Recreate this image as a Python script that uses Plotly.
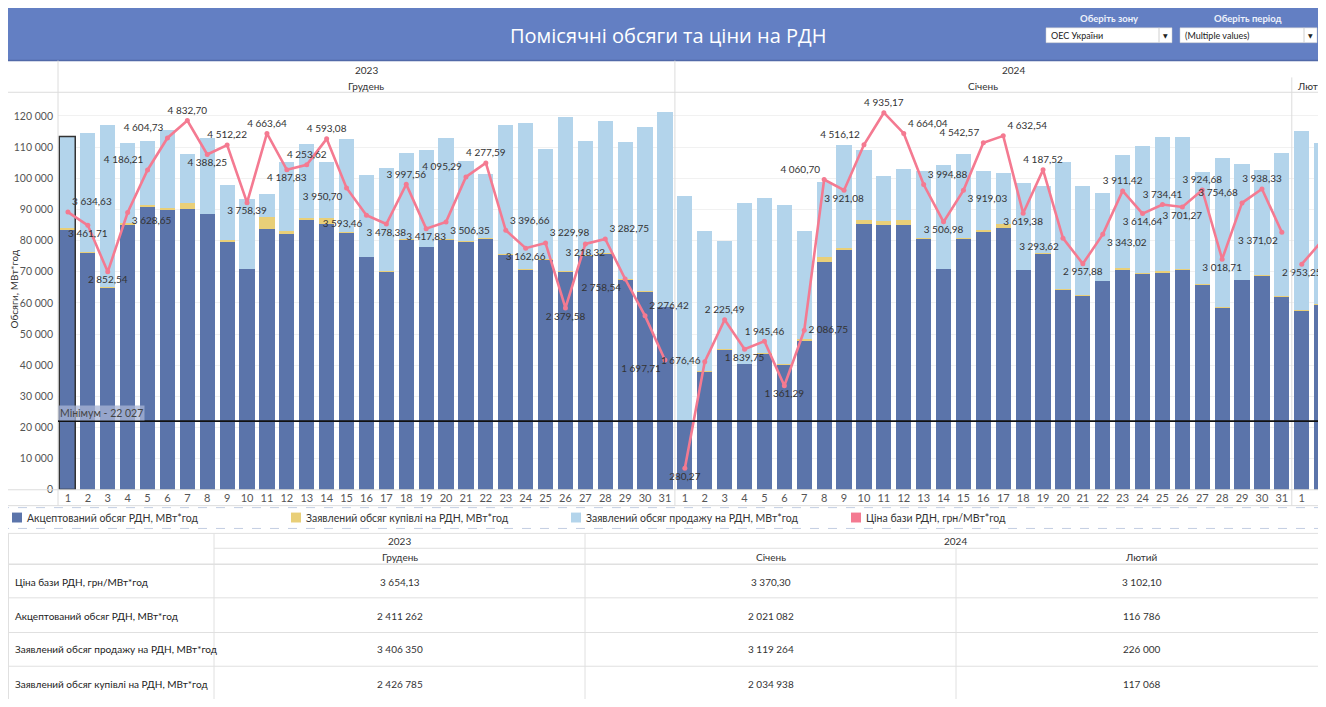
import plotly.graph_objects as go

# ---------------- data ----------------
years = ["2023", "2024", "2024"]
months = ["Грудень", "Січень", "Лютий"]

days_dec = list(range(1, 32))
days_jan = list(range(1, 32))
days_feb = [1, 2]

accepted_dec = [83430, 75900, 64660, 85020, 90650, 89590, 90010, 88310, 79610, 70810, 83640, 82050, 86610, 85340, 82480,
                74520, 69850, 80140, 77700, 80140, 79510, 80360, 75370, 70600, 73780, 69850, 74950, 75580, 67200, 63380, 58500]
buy_dec = [84030, 76300, 64860, 85520, 91250, 90290, 91910, 88510, 80110, 70910, 87440, 82850, 87310, 87140, 82680,
           74620, 70050, 80340, 77900, 80340, 79710, 80660, 75670, 70700, 73980, 70050, 75150, 75780, 67500, 63580, 58700]
sell_dec = [113130, 114510, 117060, 111330, 111860, 115470, 107620, 112820, 97750, 93300, 95000, 105180, 110910, 105180, 112600,
            100940, 103060, 108150, 108890, 112820, 105500, 101150, 117060, 117800, 109420, 119500, 111860, 118230, 111650, 116320, 121200]
price_dec = [3634.63, 3461.71, 2852.54, 3628.65, 4186.21, 4604.73, 4832.70, 4388.25, 4512.22, 3758.39, 4663.64, 4187.83, 4253.62,
             4593.08, 3950.70, 3593.46, 3478.38, 3997.56, 3417.83, 3506.35, 4095.29, 4277.59, 3396.66, 3162.66, 3229.98, 2379.58,
             3218.32, 3282.75, 2758.54, 2276.42, 1697.71]

accepted_jan = [22027, 37820, 44820, 40150, 43650, 39940, 47680, 73140, 76750, 85240, 84920, 84920, 80460, 70810, 80460,
                82690, 84070, 70380, 75580, 64130, 62110, 66880, 70600, 69320, 69640, 70600, 65610, 58400, 67200, 68580, 61900]
buy_jan = [22127, 38020, 45120, 40450, 43950, 40140, 48180, 74640, 77450, 86440, 86320, 86520, 80760, 70910, 80760,
           83290, 85270, 70580, 75880, 64330, 62310, 67080, 71000, 69520, 70040, 70800, 66010, 58600, 67400, 68880, 62000]
sell_jan = [94250, 83110, 79930, 92130, 93510, 91280, 83110, 98710, 110590, 108890, 100720, 102740, 102210, 104220, 107620,
            102210, 101680, 98500, 97430, 105180, 97430, 95310, 107410, 110380, 113130, 113130, 102000, 106560, 104330, 102420, 108150]
price_jan = [280.27, 1676.46, 2225.49, 1839.75, 1945.46, 1361.29, 2086.75, 4060.70, 3921.08, 4516.12, 4935.17, 4664.04, 3994.88,
             3506.98, 3919.03, 4542.57, 4632.54, 3619.38, 4187.52, 3293.62, 2957.88, 3343.02, 3911.42, 3614.64, 3734.41, 3701.27,
             3924.68, 3018.71, 3754.68, 3938.33, 3371.02]

accepted_feb = [57440, 59350]
buy_feb = [57640, 59430]
sell_feb = [115040, 111120]
price_feb = [2953.25, 3250.90]

# monthly summary table
table_rows = ["Ціна бази РДН, грн/МВт*год", "Акцептований обсяг РДН, МВт*год",
              "Заявлений обсяг продажу на РДН, МВт*год", "Заявлений обсяг купівлі на РДН, МВт*год"]
tbl_price = [3654.13, 3370.30, 3102.10]
tbl_accepted = [2411262, 2021082, 116786]
tbl_sell = [3406350, 3119264, 226000]
tbl_buy = [2426785, 2034938, 117068]

series_names = ["Акцептований обсяг РДН, МВт*год", "Заявлений обсяг купівлі на РДН, МВт*год",
                "Заявлений обсяг продажу на РДН, МВт*год", "Ціна бази РДН, грн/МВт*год"]

# label placement (style only)
pos_dec = ["top right", "bottom center", "bottom center", "bottom right", "top left", "top left", "top center", "bottom center",
           "top center", "bottom center", "top center", "bottom center", "top center", "top center", "bottom left",
           "bottom left", "bottom center", "top center", "bottom center", "bottom right", "top left", "top center",
           "top right", "bottom center", "top right", "bottom center", "bottom center", "top right", "bottom left",
           "top right", "bottom left"]
pos_jan = ["bottom center", "middle left", "top center", "bottom center", "top center", "bottom center", "middle right",
           "top left", "bottom center", "top left", "top center", "top right", "top right", "bottom center", "bottom right",
           "top left", "top right", "bottom center", "top center", "bottom left", "bottom center", "bottom right",
           "top center", "bottom center", "top center", "bottom center", "top center", "bottom center", "top left",
           "top center", "bottom left"]
pos_feb = ["bottom center", "top left"]

selected_index = 0

# ---------------- styling ----------------
PAGE_W, PAGE_H = 1326, 707
OX, OY = 8, 8                       # browser body margin on every side
W, H = PAGE_W - 2 * OX, PAGE_H - 2 * OY
C_ACC = "#5b74aa"
C_BUY = "#e9cf78"
C_SELL = "#b3d4eb"
C_PRICE = "#f47a91"
FONT = "Lato, 'Open Sans', sans-serif"
GRID = "#dcdcdc"


def fx(x):
    return (x - OX) / W


def fy(y):
    return 1 - (y - OY) / H


def fmt_num(v, dec=0):
    s = f"{v:,.{dec}f}"
    return s.replace(",", " ").replace(".", ",")


annotations = []
shapes = []


def ann(text, x, y, xref="paper", yref="paper", xanchor="center", yanchor="middle", size=10, color="#333333",
        family=FONT, **kw):
    annotations.append(dict(text=text, x=x, y=y, xref=xref, yref=yref, xanchor=xanchor, yanchor=yanchor,
                            showarrow=False, font=dict(family=family, size=size, color=color), **kw))


def hline(y, x0, x1, color=GRID, width=1, dash="solid"):
    shapes.append(dict(type="line", xref="paper", yref="paper", x0=fx(x0), x1=fx(x1), y0=fy(y), y1=fy(y),
                       line=dict(color=color, width=width, dash=dash), layer="above"))


def vline(x, y0, y1, color=GRID, width=1):
    shapes.append(dict(type="line", xref="paper", yref="paper", x0=fx(x), x1=fx(x), y0=fy(y0), y1=fy(y1),
                       line=dict(color=color, width=width), layer="above"))


def rect(x0, y0, x1, y1, fill, layer="above", line=None):
    shapes.append(dict(type="rect", xref="paper", yref="paper", x0=fx(x0), x1=fx(x1), y0=fy(y1), y1=fy(y0),
                       fillcolor=fill, line=line or dict(width=0), layer=layer))


month_days = [days_dec, days_jan, days_feb]
month_acc = [accepted_dec, accepted_jan, accepted_feb]
month_buy = [buy_dec, buy_jan, buy_feb]
month_sell = [sell_dec, sell_jan, sell_feb]
month_price = [price_dec, price_jan, price_feb]
month_pos = [pos_dec, pos_jan, pos_feb]

xs_by_month = []
off = 0
for d in month_days:
    xs_by_month.append([off + i for i in range(len(d))])
    off += len(d)
x_all = [x for xs in xs_by_month for x in xs]
days_all = [d for ds in month_days for d in ds]
acc_all = [v for m in month_acc for v in m]
buy_all = [v for m in month_buy for v in m]
sell_all = [v for m in month_sell for v in m]

fig = go.Figure()
BW = 0.76
fig.add_trace(go.Bar(x=x_all, y=sell_all, width=BW, marker=dict(color=C_SELL, line=dict(width=0)),
                     name=series_names[2], showlegend=False))
fig.add_trace(go.Bar(x=x_all, y=buy_all, width=BW, marker=dict(color=C_BUY, line=dict(width=0)),
                     name=series_names[1], showlegend=False))
fig.add_trace(go.Bar(x=x_all, y=acc_all, width=BW, marker=dict(color=C_ACC, line=dict(width=0)),
                     name=series_names[0], showlegend=False))
fig.add_trace(go.Bar(x=x_all, y=sell_all, width=BW,
                     marker=dict(color="rgba(0,0,0,0)",
                                 line=dict(color="#333333",
                                           width=[1.5 if i == selected_index else 0 for i in range(len(x_all))])),
                     showlegend=False, hoverinfo="skip"))

for xs, pr, pos in zip(xs_by_month, month_price, month_pos):
    fig.add_trace(go.Scatter(x=xs, y=pr, yaxis="y2", mode="lines+markers+text",
                             line=dict(color=C_PRICE, width=2.6), marker=dict(color=C_PRICE, size=5),
                             text=[fmt_num(p, 2) for p in pr], textposition=pos,
                             textfont=dict(family=FONT, size=10, color="#333333"),
                             name=series_names[3], showlegend=False, cliponaxis=False))

# plot area: 19.9 px per day slot, first slot starts at page x = 58
SLOT_PX = 19.9
x_max = -0.5 + (OX + W - 58) / SLOT_PX

# background panels
rect(0, 61, PAGE_W, PAGE_H, "white", layer="below")
rect(0, 0, PAGE_W, 61, "#637fc3", layer="below")
hline(61, 0, PAGE_W, color="#5169a8", width=1.5)

# title + filters
ann("Помісячні обсяги та ціни на РДН", fx(668), fy(36), size=20, color="white", family="'Open Sans', sans-serif")
for label, cx, x0, x1, val in [("Оберіть зону", 1109, 1046, 1172, "ОЕС України"),
                               ("Оберіть період", 1248, 1180, 1317, "(Multiple values)")]:
    ann(f"<b>{label}</b>", fx(cx), fy(18.5), size=9.5, color="#eef2fb")
    rect(x0, 28, x1, 43, "white", line=dict(color="#c8c8c8", width=0.5))
    vline(x1 - 13, 28, 43, color="#d0d0d0")
    ann(val, fx(x0 + 3), fy(35.5), xanchor="left", size=9, color="#222222")
    ann("▼", fx(x1 - 6.5), fy(35.5), size=6, color="#222222", family="DejaVu Sans")

# pane separators & header texts
for i, xs in enumerate(xs_by_month):
    if i > 0:
        top = 61 if years[i] != years[i - 1] else 78
        shapes.append(dict(type="line", xref="x", yref="paper", x0=xs[0] - 0.5, x1=xs[0] - 0.5,
                           y0=fy(510), y1=fy(top), line=dict(color=GRID, width=1), layer="above"))
    if i == len(xs_by_month) - 1:
        ann(months[i], xs[0] - 0.35, fy(86.5), xref="x", xanchor="left")
    else:
        ann(months[i], (xs[0] + xs[-1]) / 2, fy(86.5), xref="x")
for yr in sorted(set(years)):
    idx = [i for i, y in enumerate(years) if y == yr]
    a = xs_by_month[idx[0]][0] - 0.5
    b = xs_by_month[idx[-1]][-1] + 0.5 + (1.0 if idx[-1] == len(years) - 1 else 0)
    ann(yr, (a + b) / 2, fy(70.5), xref="x")

for yy in [93, 494, 510]:
    hline(yy, 0, PAGE_W)
vline(58, 510, 61)
for yy in [512, 533]:
    hline(yy, 0, PAGE_W, color="#c3cee2", dash="dash")

# minimum line
min_acc = min(acc_all)
shapes.append(dict(type="line", xref="paper", yref="y", x0=fx(58), x1=1, y0=min_acc, y1=min_acc,
                   line=dict(color="#111111", width=1.6), layer="above"))
ann(f"Мінімум - {fmt_num(min_acc)}", -0.5, min_acc, xref="x", yref="y", xanchor="left", yanchor="bottom",
    size=10.5, color="#444444", bgcolor="rgba(170,182,214,0.75)", borderpad=1)

# y axis title
ann("Обсяги, МВт*год", fx(14), fy(292), size=10, color="#333333", textangle=-90)

# legend
legend_colors = [C_ACC, C_BUY, C_SELL, C_PRICE]
legend_x = [12, 291, 571, 851]
for name, col, lx in zip(series_names, legend_colors, legend_x):
    rect(lx, 517, lx + 10, 527, col)
    ann(name, fx(lx + 13), fy(522), xanchor="left", size=10.5)

# summary table
TL = "#e0e0e0"
col_edges = [214, 585, 956, 1327]
col_centers = [(col_edges[i] + col_edges[i + 1]) / 2 for i in range(3)]
row_lines = [569, 603, 638, 672]
row_centers = [587, 621, 655, 690]
hline(538, 8, PAGE_W, color=TL)
hline(553, 214, PAGE_W, color=TL)
for ry in row_lines:
    hline(ry, 8, PAGE_W, color=TL, width=1.5 if ry == 569 else 1)
for cx_, top in [(8.5, 538), (214, 538), (585, 538), (956, 553)]:
    vline(cx_, PAGE_H, top, color=TL)
ann(years[0], fx((214 + 585) / 2), fy(546))
ann(years[1], fx((585 + 1326) / 2), fy(546))
for m, cc in zip(months, col_centers):
    ann(m, fx(cc), fy(562))
tbl_values = [[fmt_num(v, 2) for v in tbl_price], [fmt_num(v) for v in tbl_accepted],
              [fmt_num(v) for v in tbl_sell], [fmt_num(v) for v in tbl_buy]]
for rname, rc, vals in zip(table_rows, row_centers, tbl_values):
    ann(rname, fx(13), fy(rc), xanchor="left", color="#222222")
    for v, cc in zip(vals, col_centers):
        ann(v, fx(cc), fy(rc))

fig.update_layout(
    width=W, height=H, autosize=False,
    margin=dict(l=0, r=0, t=0, b=0),
    paper_bgcolor="white", plot_bgcolor="white",
    barmode="overlay", bargap=0,
    separators=", ",
    showlegend=False,
    xaxis=dict(domain=[fx(58), 1], range=[-0.5, x_max], tickvals=x_all, ticktext=[str(d) for d in days_all],
               tickfont=dict(family=FONT, size=11, color="#555555"), showgrid=False, zeroline=False,
               showline=False, ticks="", fixedrange=True),
    yaxis=dict(domain=[fy(494), fy(93)], range=[0, 127600], dtick=10000, tickformat=",d",
               tickfont=dict(family=FONT, size=10.5, color="#555555"), showgrid=True, gridcolor="#f1f1f1",
               zeroline=False, showline=False, ticks="", ticklabelstandoff=4),
    yaxis2=dict(overlaying="y", range=[0, 5203], visible=False),
    shapes=shapes, annotations=annotations,
)

fig.write_html("out.html")
